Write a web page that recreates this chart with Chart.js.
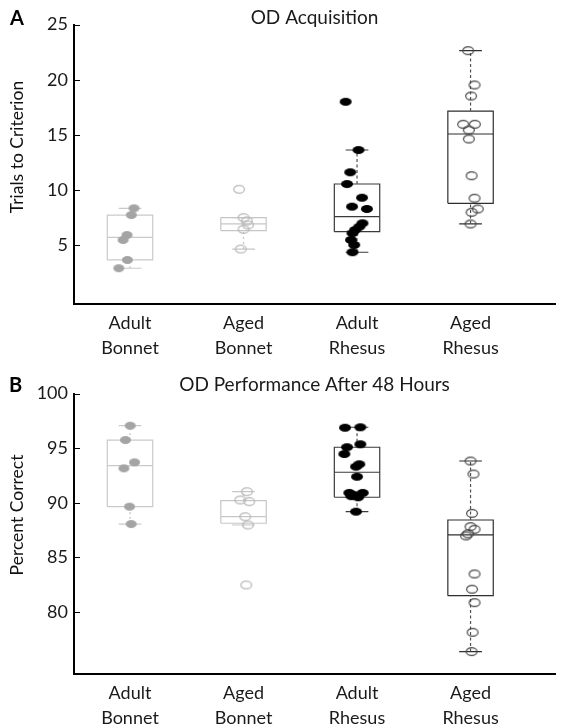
<!DOCTYPE html>
<html><head><meta charset="utf-8">
<script src="https://cdn.jsdelivr.net/npm/chart.js@4.4.1/dist/chart.umd.min.js"></script>
<style>
html,body{margin:0;padding:0;background:#fff;}
#wrap{position:relative;width:564px;height:728px;overflow:hidden;}
.cv{position:absolute;left:0;width:564px;height:364px;}
.panel{position:absolute;font-family:Lato,sans-serif;font-weight:bold;font-size:20px;line-height:20px;color:#000;z-index:2;}
</style></head><body>
<div id="wrap">
  <div class="panel" style="left:10px;top:7px">A</div>
  <div class="panel" style="left:9px;top:374px">B</div>
  <div class="cv" style="top:0"><canvas id="cA"></canvas></div>
  <div class="cv" style="top:364px"><canvas id="cB"></canvas></div>
</div>
<script>
// ---------- data ----------
const categories = ['Adult Bonnet', 'Aged Bonnet', 'Adult Rhesus', 'Aged Rhesus'];
const ticksA = [5, 10, 15, 20, 25];
const ticksB = [80, 85, 90, 95, 100];

// Panel A: trials to criterion (individual animals)
const acqAdultBonnet = [8.35, 7.74, 5.93, 5.48, 3.67, 2.92];
const acqAgedBonnet  = [10.07, 7.5, 7.2, 6.84, 6.45, 4.66];
const acqAdultRhesus = [18.0, 13.63, 11.61, 10.55, 9.31, 8.5, 8.29, 6.99, 6.68, 6.39, 6.09, 5.48, 5.03, 4.37];
const acqAgedRhesus  = [22.63, 19.52, 18.52, 15.96, 15.96, 15.44, 14.63, 11.3, 9.26, 8.29, 7.99, 6.93];
// box statistics [lower whisker, Q1, median, Q3, upper whisker]
const acqBoxAdultBonnet = [2.92, 3.67, 5.72, 7.74, 8.35];
const acqBoxAgedBonnet  = [4.66, 6.32, 6.93, 7.5, 7.5];
const acqBoxAdultRhesus = [4.37, 6.23, 7.59, 10.55, 13.63];
const acqBoxAgedRhesus  = [6.93, 8.8, 15.08, 17.16, 22.63];

// Panel B: percent correct after 48 hours
const pctAdultBonnet = [97.05, 95.74, 93.7, 93.15, 89.64, 88.05];
const pctAgedBonnet  = [91.01, 90.25, 90.1, 88.72, 87.96, 82.47];
const pctAdultRhesus = [96.91, 96.87, 95.35, 95.08, 94.46, 93.52, 93.3, 92.38, 90.9, 90.9, 90.7, 90.5, 90.6, 89.18];
const pctAgedRhesus  = [93.82, 92.63, 89.03, 87.81, 87.57, 87.15, 86.96, 83.48, 82.08, 80.85, 78.14, 76.37];
const pctBoxAdultBonnet = [88.05, 89.64, 93.39, 95.74, 97.05];
const pctBoxAgedBonnet  = [87.96, 88.12, 88.72, 90.19, 91.01];
const pctBoxAdultRhesus = [89.18, 90.5, 92.79, 95.08, 96.91];
const pctBoxAgedRhesus  = [76.37, 81.49, 87.05, 88.42, 93.82];

// horizontal jitter of the dots (category units), as seen in the picture
const jitterA = [
  [0.035, 0.012, -0.026, -0.061, -0.023, -0.099],
  [-0.039, 0, 0.03, 0.04, 0, -0.024],
  [-0.10, 0.013, -0.06, -0.088, 0.044, -0.044, 0.087, 0.048, 0.02, -0.016, -0.04, -0.053, -0.025, -0.04],
  [-0.021, 0.035, 0.005, -0.065, 0.038, -0.015, -0.015, 0.009, 0.035, 0.064, 0.009, 0]
];
const jitterB = [
  [0.002, -0.04, 0.04, -0.054, -0.004, 0.01],
  [0.03, -0.029, 0.05, 0.015, 0.039, 0.024],
  [0.029, -0.106, 0.029, -0.088, -0.112, 0.02, -0.009, 0, -0.068, 0.05, -0.024, 0.01, -0.05, -0.009],
  [0, 0.026, 0.013, 0, 0.035, -0.022, -0.04, 0.035, 0.013, 0.035, 0.018, 0.009]
];

// ---------- styles ----------
function ellipseImg(w, h, fill, stroke, lw) {
  const c = document.createElement('canvas');
  c.width = w + 2; c.height = h + 2;
  const g = c.getContext('2d');
  g.beginPath();
  g.ellipse((w + 2) / 2, (h + 2) / 2, w / 2 - (stroke ? lw / 2 : 0), h / 2 - (stroke ? lw / 2 : 0), 0, 0, Math.PI * 2);
  if (fill) { g.fillStyle = fill; g.fill(); }
  if (stroke) { g.lineWidth = lw; g.strokeStyle = stroke; g.stroke(); }
  return c;
}
const groupStyles = [
  { img: ellipseImg(11, 8, '#a4a4a4', null, 0), box: '#c9c9c9', whisker: '#c4c4c4', dash: [2, 3] },
  { img: ellipseImg(12, 9, null, '#b9b9b9', 1.3), box: '#c6c6c6', whisker: '#c4c4c4', dash: [2, 3] },
  { img: ellipseImg(12, 8, '#000000', null, 0), box: '#3a3a3a', whisker: '#505050', dash: [3, 2.5] },
  { img: ellipseImg(12, 9, null, '#444444', 1.2), box: '#2e2e2e', whisker: '#505050', dash: [3, 2.5] }
];
const BOX_HALF = 0.2, CAP_HALF = 0.1;
const X_MIN = 0.5066, X_MAX = 4.744;

function lineDs(data, color, dash) {
  return { type: 'scatter', data, showLine: true, borderColor: color, borderWidth: 1.2,
    borderDash: dash || [], pointRadius: 0, fill: false, tension: 0, order: 2 };
}
function buildDatasets(valueSets, boxSets, jitter) {
  const ds = [];
  valueSets.forEach((vals, i) => {
    const c = i + 1, b = boxSets[i], st = groupStyles[i];
    ds.push({ type: 'scatter', order: 0, pointStyle: st.img, pointRadius: 5,
      data: vals.map((v, k) => ({ x: c + jitter[i][k], y: v })) });
    ds.push(lineDs([{x: c, y: b[3]}, {x: c, y: b[4]}], st.whisker, st.dash));
    ds.push(lineDs([{x: c, y: b[0]}, {x: c, y: b[1]}], st.whisker, st.dash));
    ds.push(lineDs([{x: c - CAP_HALF, y: b[4]}, {x: c + CAP_HALF, y: b[4]}], st.box));
    ds.push(lineDs([{x: c - CAP_HALF, y: b[0]}, {x: c + CAP_HALF, y: b[0]}], st.box));
    ds.push(lineDs([{x: c - BOX_HALF, y: b[1]}, {x: c + BOX_HALF, y: b[1]}, {x: c + BOX_HALF, y: b[3]},
                    {x: c - BOX_HALF, y: b[3]}, {x: c - BOX_HALF, y: b[1]}], st.box));
    ds.push(lineDs([{x: c - BOX_HALF, y: b[2]}, {x: c + BOX_HALF, y: b[2]}], st.box));
  });
  return ds;
}

const axisDecor = {
  id: 'axisDecor',
  afterDraw(chart, args, opts) {
    const { ctx, chartArea, scales } = chart;
    ctx.save();
    ctx.strokeStyle = '#000'; ctx.lineWidth = 1;
    for (const v of opts.ticks) {
      const y = Math.round(scales.y.getPixelForValue(v)) + 0.5;
      ctx.beginPath(); ctx.moveTo(chartArea.left, y); ctx.lineTo(chartArea.left + 6, y); ctx.stroke();
    }
    ctx.font = '17.5px Lato';
    ctx.fillStyle = '#111';
    ctx.translate(opts.titleX, opts.titleY);
    ctx.rotate(-Math.PI / 2);
    ctx.textAlign = 'center'; ctx.textBaseline = 'middle';
    ctx.fillText(opts.title, 0, 0);
    ctx.restore();
  }
};

function makeChart(id, cfg) {
  return new Chart(document.getElementById(id), {
    type: 'scatter',
    data: { datasets: buildDatasets(cfg.values, cfg.boxes, cfg.jitter) },
    plugins: [axisDecor],
    options: {
      responsive: true, maintainAspectRatio: false, animation: false, events: [],
      layout: { padding: { left: 0, right: 9, top: 0, bottom: 0 } },
      plugins: {
        legend: { display: false }, tooltip: { enabled: false },
        title: { display: true, text: cfg.title, fullSize: false, color: '#1a1a1a',
          font: { family: 'Lato', size: 19, weight: 'normal', lineHeight: '13px' },
          padding: cfg.titlePad },
        axisDecor: { ticks: cfg.ticks, title: cfg.yTitle, titleX: 17, titleY: cfg.yTitleY }
      },
      scales: {
        x: { type: 'linear', min: X_MIN, max: X_MAX,
          grid: { display: false, drawTicks: false },
          border: { display: true, color: '#000', width: 2 },
          afterBuildTicks: s => { s.ticks = categories.map((c, i) => ({ value: i + 1 })); },
          afterFit: s => { s.height = cfg.xHeight; },
          ticks: { color: '#1a1a1a', padding: 7, font: { family: 'Lato', size: 18, lineHeight: '25px' },
            callback: v => categories[v - 1] ? categories[v - 1].split(' ') : '' } },
        y: { type: 'linear', min: cfg.yMin, max: cfg.yMax,
          grid: { display: false, drawTicks: false },
          border: { display: true, color: '#000', width: 2 },
          afterBuildTicks: s => { s.ticks = cfg.ticks.map(v => ({ value: v })); },
          afterFit: s => { s.width = 74; },
          ticks: { color: '#1a1a1a', padding: 6, font: { family: 'Lato', size: 18 } } }
      }
    }
  });
}

function draw() {
  makeChart('cA', {
    values: [acqAdultBonnet, acqAgedBonnet, acqAdultRhesus, acqAgedRhesus],
    boxes: [acqBoxAdultBonnet, acqBoxAgedBonnet, acqBoxAdultRhesus, acqBoxAgedRhesus],
    jitter: jitterA, ticks: ticksA, yMin: -0.32, yMax: 25,
    title: 'OD Acquisition', titlePad: { top: 11.5, bottom: 0 },
    yTitle: 'Trials to Criterion', yTitleY: 147, xHeight: 60
  });
  makeChart('cB', {
    values: [pctAdultBonnet, pctAgedBonnet, pctAdultRhesus, pctAgedRhesus],
    boxes: [pctBoxAdultBonnet, pctBoxAgedBonnet, pctBoxAdultRhesus, pctBoxAgedRhesus],
    jitter: jitterB, ticks: ticksB, yMin: 74.32, yMax: 100,
    title: 'OD Performance After 48 Hours', titlePad: { top: 14.5, bottom: 2 },
    yTitle: 'Percent Correct', yTitleY: 151, xHeight: 54
  });
}
if (document.fonts && document.fonts.load) {
  Promise.all([document.fonts.load('18px Lato'), document.fonts.load('bold 20px Lato')])
    .then(draw, draw);
} else { draw(); }
</script>
</body></html>
